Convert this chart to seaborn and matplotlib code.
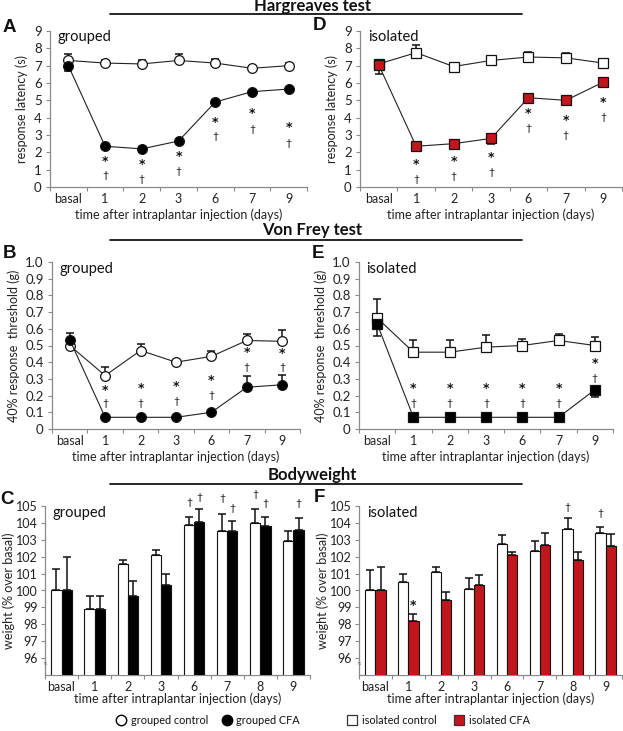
import numpy as np
import pandas as pd
import matplotlib
matplotlib.use("Agg")
import matplotlib.pyplot as plt
from matplotlib.lines import Line2D
import seaborn as sns

sns.set_theme(style="white")
plt.rcParams["font.family"] = ["Lato", "DejaVu Sans"]
plt.rcParams.update({
    "font.size": 9,
    "axes.labelsize": 9,
    "xtick.labelsize": 9,
    "ytick.labelsize": 9.5,
    "axes.edgecolor": "#8a8a8a",
    "axes.linewidth": 0.9,
    "xtick.color": "#8a8a8a",
    "ytick.color": "#8a8a8a",
    "xtick.labelcolor": "#222222",
    "ytick.labelcolor": "#222222",
    "axes.labelcolor": "#222222",
    "text.color": "#111111",
})

W, H = 623, 731
RED = "#c0161c"

DAYS = ["basal", "1", "2", "3", "6", "7", "9"]
BW_DAYS = ["basal", "1", "2", "3", "6", "7", "8", "9"]
nan = np.nan

# Hargreaves test, response latency (s). Signed SEM: + drawn up, - drawn down
harg_grp_ctrl = [7.3, 7.15, 7.1, 7.3, 7.15, 6.85, 7.0]
harg_grp_ctrl_err = [0.35, 0.2, 0.2, 0.35, 0.25, 0.15, 0.15]
harg_grp_cfa = [7.0, 2.35, 2.2, 2.65, 4.9, 5.5, 5.65]
harg_grp_cfa_err = [-0.3, -0.15, -0.15, -0.1, -0.15, -0.15, -0.1]
harg_grp_star = [nan, 1.57, 1.38, 1.84, 3.84, 4.32, 3.51]
harg_grp_dagger = [nan, 0.67, 0.42, 0.9, 2.92, 3.34, 2.53]

harg_iso_ctrl = [7.1, 7.75, 6.95, 7.3, 7.5, 7.45, 7.15]
harg_iso_ctrl_err = [-0.6, 0.45, 0.15, 0.1, 0.3, 0.3, 0.1]
harg_iso_cfa = [7.05, 2.35, 2.5, 2.8, 5.15, 5.0, 6.05]
harg_iso_cfa_err = [-0.3, -0.1, -0.15, -0.3, -0.1, -0.15, -0.1]
harg_iso_star = [nan, 1.42, 1.57, 1.8, 4.36, 3.93, 4.99]
harg_iso_dagger = [nan, 0.42, 0.61, 0.84, 3.36, 2.96, 3.99]

# Von Frey test, 40% response threshold (g)
vf_grp_ctrl = [0.50, 0.32, 0.47, 0.40, 0.435, 0.53, 0.525]
vf_grp_ctrl_err = [0.0, 0.05, 0.04, 0.0, 0.03, 0.04, 0.07]
vf_grp_cfa = [0.535, 0.07, 0.07, 0.07, 0.10, 0.25, 0.265]
vf_grp_cfa_err = [0.04, 0.0, 0.0, 0.0, 0.0, 0.07, 0.06]
vf_grp_star = [nan, 0.244, 0.254, 0.264, 0.30, 0.47, 0.464]
vf_grp_dagger = [nan, 0.15, 0.154, 0.164, 0.20, 0.37, 0.37]

vf_iso_ctrl = [0.665, 0.46, 0.46, 0.49, 0.50, 0.53, 0.50]
vf_iso_ctrl_err = [0.115, 0.07, 0.07, 0.075, 0.04, 0.04, 0.05]
vf_iso_cfa = [0.63, 0.07, 0.07, 0.07, 0.07, 0.07, 0.235]
vf_iso_cfa_err = [-0.075, 0.0, 0.0, 0.0, 0.0, 0.0, -0.045]
vf_iso_star = [nan, 0.254, 0.254, 0.254, 0.254, 0.254, 0.404]
vf_iso_dagger = [nan, 0.154, 0.154, 0.154, 0.154, 0.154, 0.304]

# Bodyweight, % over basal
bw_grp_ctrl = [100.0, 98.9, 101.55, 102.1, 103.9, 103.5, 104.0, 102.9]
bw_grp_ctrl_err = [1.3, 0.75, 0.25, 0.3, 0.45, 1.0, 0.8, 0.6]
bw_grp_cfa = [100.0, 98.9, 99.7, 100.3, 104.05, 103.55, 103.8, 103.6]
bw_grp_cfa_err = [2.0, 0.8, 0.85, 0.7, 0.75, 0.55, 0.55, 0.7]
bw_grp_ctrl_dagger = [nan, nan, nan, nan, 105.18, 105.43, 105.67, nan]
bw_grp_cfa_dagger = [nan, nan, nan, nan, 105.49, 104.88, 105.14, 105.14]

bw_iso_ctrl = [100.0, 100.5, 101.1, 100.1, 102.75, 102.35, 103.65, 103.4]
bw_iso_ctrl_err = [1.2, 0.45, 0.3, 0.65, 0.55, 0.55, 0.65, 0.35]
bw_iso_cfa = [100.0, 98.2, 99.45, 100.3, 102.1, 102.7, 101.8, 102.65]
bw_iso_cfa_err = [1.4, 0.4, 0.45, 0.6, 0.2, 0.7, 0.45, 0.7]
bw_iso_cfa_star = [nan, 99.24, nan, nan, nan, nan, nan, nan]
bw_iso_ctrl_dagger = [nan, nan, nan, nan, nan, nan, 104.93, 104.54]

LAT_TICKS = list(range(10))
VF_TICKS = [0, 0.1, 0.2, 0.3, 0.4, 0.5, 0.6, 0.7, 0.8, 0.9, 1.0]
VF_LABELS = ["0", "0.1", "0.2", "0.3", "0.4", "0.5", "0.6", "0.7", "0.8", "0.9", "1.0"]
BW_TICKS = list(range(96, 106))

XLABEL = "time after intraplantar injection (days)"


def px_axes(fig, left, top, right, bottom):
    return fig.add_axes([left / W, 1 - bottom / H, (right - left) / W, (bottom - top) / H])


def style_axes(ax, labels, ylabel, group, xpad=3, ypad=4):
    n = len(labels)
    ax.set_xlim(-0.5, n - 0.5)
    ax.set_xticks(np.arange(n))
    ax.set_xticklabels(labels)
    ax.set_xticks(np.arange(n + 1) - 0.5, minor=True)
    ax.tick_params(axis="x", which="major", length=0, pad=4)
    ax.tick_params(axis="x", which="minor", length=3, width=0.8, bottom=True)
    ax.tick_params(axis="y", length=3, width=0.8, left=True, pad=3)
    for side in ["top", "right"]:
        ax.spines[side].set_visible(False)
    ax.set_xlabel(XLABEL, labelpad=xpad)
    ax.set_ylabel(ylabel, labelpad=ypad)
    ax.text(0.03, 0.96, group, transform=ax.transAxes, fontsize=10.5, va="center", ha="left")


def annotate(ax, xs, ys, sym, dy=0.0):
    for x, y in zip(xs, ys):
        if np.isnan(y):
            continue
        if sym == "*":
            ax.text(x, y + dy, sym, ha="center", va="center", fontsize=9,
                    family="DejaVu Sans", fontweight="bold")
        else:
            ax.text(x, y + dy, sym, ha="center", va="center", fontsize=7.5)


def line_panel(ax, ctrl, ctrl_err, cfa, cfa_err, star, dagger, marker, cfa_color,
               ylim, yticks, yticklabels, ylabel, group, star_dy):
    x = np.arange(len(DAYS))
    for vals, err, face in [(ctrl, ctrl_err, "white"), (cfa, cfa_err, cfa_color)]:
        err = np.asarray(err, dtype=float)
        ax.errorbar(x, vals, yerr=[np.clip(-err, 0, None), np.clip(err, 0, None)],
                    fmt="none", ecolor="#111111", elinewidth=1.1, capsize=3, capthick=1.1, zorder=2)
        sns.lineplot(x=x, y=vals, ax=ax, color="#222222", lw=0.8, marker=marker, markersize=7,
                     markerfacecolor=face, markeredgecolor="#111111", markeredgewidth=0.9,
                     legend=False, zorder=3)
    ax.set_ylim(*ylim)
    ax.set_yticks(yticks)
    ax.set_yticklabels(yticklabels)
    style_axes(ax, DAYS, ylabel, group)
    annotate(ax, x, star, "*", star_dy)
    annotate(ax, x, dagger, "\u2020")


def bar_panel(ax, ctrl, ctrl_err, cfa, cfa_err, cfa_color, group, marks):
    df = pd.DataFrame({
        "day": BW_DAYS * 2,
        "weight": ctrl + cfa,
        "group": ["control"] * len(ctrl) + ["CFA"] * len(cfa),
    })
    sns.barplot(data=df, x="day", y="weight", hue="group", palette=["white", cfa_color],
                width=0.62, saturation=1, edgecolor="#111111", linewidth=0.8,
                errorbar=None, legend=False, ax=ax, zorder=3)
    centers = []
    for cont, err in zip(ax.containers, [ctrl_err, cfa_err]):
        xs = [b.get_x() + b.get_width() / 2 for b in cont]
        ys = [b.get_height() for b in cont]
        centers.append(xs)
        ax.errorbar(xs, ys, yerr=[np.zeros(len(err)), err], fmt="none", ecolor="#111111",
                    elinewidth=1.1, capsize=3, capthick=1.1, zorder=2)
    ax.set_ylim(95, 105)
    ax.set_yticks(BW_TICKS)
    style_axes(ax, BW_DAYS, "weight (% over basal)", group, xpad=0, ypad=1)
    ax.tick_params(axis="y", labelsize=9, pad=2)
    # axis break mark
    ax.text(0, 95.65, "\u2248", transform=ax.get_yaxis_transform(), ha="center",
            va="center", fontsize=6, color="#777777")
    for which, ys, sym in marks:
        annotate(ax, centers[which], ys, sym, -0.1 if sym == "*" else 0.0)


fig = plt.figure(figsize=(W / 100, H / 100), dpi=100)

axA = px_axes(fig, 50, 31, 307, 187)
line_panel(axA, harg_grp_ctrl, harg_grp_ctrl_err, harg_grp_cfa, harg_grp_cfa_err,
           harg_grp_star, harg_grp_dagger, "o", "black", (0, 9), LAT_TICKS,
           [str(t) for t in LAT_TICKS], "response latency (s)", "grouped", -0.1)

axD = px_axes(fig, 360, 31, 622, 187)
line_panel(axD, harg_iso_ctrl, harg_iso_ctrl_err, harg_iso_cfa, harg_iso_cfa_err,
           harg_iso_star, harg_iso_dagger, "s", RED, (0, 9), LAT_TICKS,
           [str(t) for t in LAT_TICKS], "response latency (s)", "isolated", -0.1)

axB = px_axes(fig, 52, 262, 300, 429)
line_panel(axB, vf_grp_ctrl, vf_grp_ctrl_err, vf_grp_cfa, vf_grp_cfa_err,
           vf_grp_star, vf_grp_dagger, "o", "black", (0, 1.0), VF_TICKS, VF_LABELS,
           "40% response  threshold (g)", "grouped", -0.011)

axE = px_axes(fig, 359, 262, 613, 429)
line_panel(axE, vf_iso_ctrl, vf_iso_ctrl_err, vf_iso_cfa, vf_iso_cfa_err,
           vf_iso_star, vf_iso_dagger, "s", "black", (0, 1.0), VF_TICKS, VF_LABELS,
           "40% response  threshold (g)", "isolated", -0.011)

axC = px_axes(fig, 45, 506, 310, 675)
bar_panel(axC, bw_grp_ctrl, bw_grp_ctrl_err, bw_grp_cfa, bw_grp_cfa_err, "black", "grouped",
          [(0, bw_grp_ctrl_dagger, "\u2020"), (1, bw_grp_cfa_dagger, "\u2020")])

axF = px_axes(fig, 359, 506, 622, 675)
bar_panel(axF, bw_iso_ctrl, bw_iso_ctrl_err, bw_iso_cfa, bw_iso_cfa_err, RED, "isolated",
          [(1, bw_iso_cfa_star, "*"), (0, bw_iso_ctrl_dagger, "\u2020")])

# panel letters
for letter, (px, py) in {"A": (9, 27), "D": (320, 25), "B": (9, 253), "E": (318, 253),
                         "C": (7, 500), "F": (319, 498)}.items():
    fig.text(px / W, 1 - py / H, letter, fontsize=13.5, fontweight="bold", ha="center",
             va="center", family="Liberation Sans")

# section headers with rules
for title, ty, ly in [("Hargreaves test", 11.5, 14), ("Von Frey test", 235, 239.5),
                      ("Bodyweight", 480, 484)]:
    fig.text(312 / W, 1 - ty / H, title, fontsize=12, fontweight="bold", ha="center", va="baseline")
    fig.add_artist(Line2D([110 / W, 522 / W], [1 - ly / H] * 2, color="black", lw=1.2,
                          transform=fig.transFigure))

# legend: two pairs, grouped on the left, isolated on the right
grp_handles = [
    Line2D([], [], ls="none", marker="o", ms=7.5, mfc="white", mec="black", mew=1),
    Line2D([], [], ls="none", marker="o", ms=7.5, mfc="black", mec="black", mew=1),
]
iso_handles = [
    Line2D([], [], ls="none", marker="s", ms=7.5, mfc="white", mec="#333333", mew=0.9),
    Line2D([], [], ls="none", marker="s", ms=7.5, mfc=RED, mec="#333333", mew=0.9),
]
leg1 = fig.legend(grp_handles, ["grouped control", "grouped CFA"], loc="center",
                  bbox_to_anchor=(208 / W, 1 - 720 / H), ncol=2, frameon=False, fontsize=7.8,
                  handletextpad=0.4, columnspacing=1.2, handlelength=1.0)
fig.legend(iso_handles, ["isolated control", "isolated CFA"], loc="center",
           bbox_to_anchor=(438 / W, 1 - 720 / H), ncol=2, frameon=False, fontsize=7.8,
           handletextpad=0.4, columnspacing=1.6, handlelength=1.0)

fig.savefig("out.png", dpi=100)
